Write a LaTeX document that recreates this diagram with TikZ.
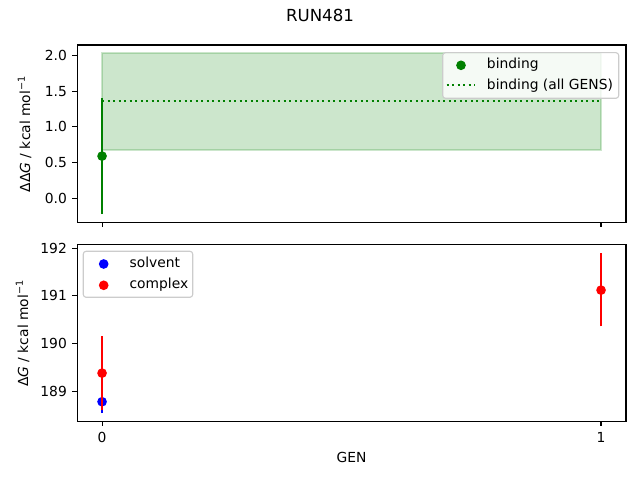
\documentclass[tikz,border=0pt]{standalone}
\usepackage{fontspec}
\setmainfont{DejaVu Sans}
\usepackage{tikz}
\definecolor{mplgreen}{HTML}{008000}
\definecolor{mplblue}{HTML}{0000FF}
\definecolor{mplred}{HTML}{FF0000}
\definecolor{legendedge}{HTML}{CCCCCC}
\tikzset{
  axisframe/.style={line width=0.8pt},
  tickmark/.style={line width=0.8pt},
  ticklabel/.style={inner sep=0pt, font=\fontsize{10}{12}\selectfont},
  errbar/.style={line width=1.5pt},
  datapoint/.style={circle, fill, inner sep=0pt, minimum size=7pt},
  allgens/.style={line width=1.5pt, dash pattern=on 1.5pt off 2.475pt},
  legendbox/.style={draw=legendedge, line width=0.8pt, fill=white, fill opacity=0.8, rounded corners=2pt},
  legendtext/.style={inner sep=0pt, anchor=base west, font=\fontsize{10}{12}\selectfont},
  axislabel/.style={inner sep=0pt, font=\fontsize{10}{12}\selectfont},
}
\begin{document}
\begin{tikzpicture}[x=0.01in, y=0.01in]
\useasboundingbox (0,0) rectangle (640,480);
\node[inner sep=0pt, anchor=base, font=\fontsize{12}{14}\selectfont] (title) at (320,458.7) {RUN481};
\begin{scope}[xshift=1.02in, yshift=2.817in, x=4.987in, y=0.712in]
\filldraw[mplgreen, opacity=0.2, line width=1pt] (0,0.674) rectangle (1,2.036);
\draw[mplgreen, allgens] (0,1.366) -- (1,1.366);
\draw[mplgreen, errbar] (0,-0.225) -- (0,1.40);
\node[datapoint, mplgreen] (pbind) at (0,0.59) {};
\draw[axisframe] (-0.05,-0.338) rectangle (1.05,2.149);
\foreach \v/\lab [count=\i] in {0/0.0, 0.5/0.5, 1/1.0, 1.5/1.5, 2/2.0}
  \draw[tickmark] (-0.05,\v) -- ++(-3.5pt,0) node[ticklabel, anchor=east, xshift=-3.5pt, name=upy\i] {\lab};
\foreach \x in {0,1}
  \draw[tickmark] (\x,-0.338) -- ++(0,-3.5pt);
\end{scope}
\begin{scope}[xshift=1.02in, yshift=-89.2093in, x=4.987in, y=0.4767in]
\draw[mplblue, errbar] (0,188.54) -- (0,189.02);
\node[datapoint, mplblue] (psolv) at (0,188.78) {};
\draw[mplred, errbar] (0,188.60) -- (0,190.16);
\node[datapoint, mplred] (pcplxa) at (0,189.38) {};
\draw[mplred, errbar] (1,190.36) -- (1,191.90);
\node[datapoint, mplred] (pcplxb) at (1,191.12) {};
\draw[axisframe] (-0.05,188.37) rectangle (1.05,192.07);
\foreach \v [count=\i] in {189,190,191,192}
  \draw[tickmark] (-0.05,\v) -- ++(-3.5pt,0) node[ticklabel, anchor=east, xshift=-3.5pt, name=loy\i] {\v};
\foreach \x [count=\i] in {0,1} {
  \draw[tickmark] (\x,188.37) -- ++(0,-3.5pt);
  \node[ticklabel, anchor=base, yshift=-15.3pt] (lox\i) at (\x,188.37) {\x};
}
\end{scope}
\node[axislabel, rotate=90, anchor=base] (uplab) at (30,346) {ΔΔ\textit{G} / kcal mol\textsuperscript{−1}};
\node[axislabel, rotate=90, anchor=base] (lolab) at (28,146.7) {Δ\textit{G} / kcal mol\textsuperscript{−1}};
\node[axislabel, anchor=base] (genlab) at (351.5,17.7) {GEN};
\draw[legendbox] (442.7,381.7) rectangle (618.7,427.3);
\node[datapoint, mplgreen] (lgbind) at (461,414.7) {};
\node[legendtext] (ltbind) at (486.7,411) {binding};
\draw[mplgreen, allgens] (446.7,395) -- (475,395);
\node[legendtext] (ltall) at (486.7,390.7) {binding (all GENS)};
\draw[legendbox] (83.3,182.7) rectangle (192.7,228.7);
\node[datapoint, mplblue] (lgsolv) at (103.7,216) {};
\node[legendtext] (ltsolv) at (129.3,212.3) {solvent};
\node[datapoint, mplred] (lgcplx) at (103.7,194.7) {};
\node[legendtext] (ltcplx) at (129.3,191.3) {complex};
\end{tikzpicture}
\end{document}
